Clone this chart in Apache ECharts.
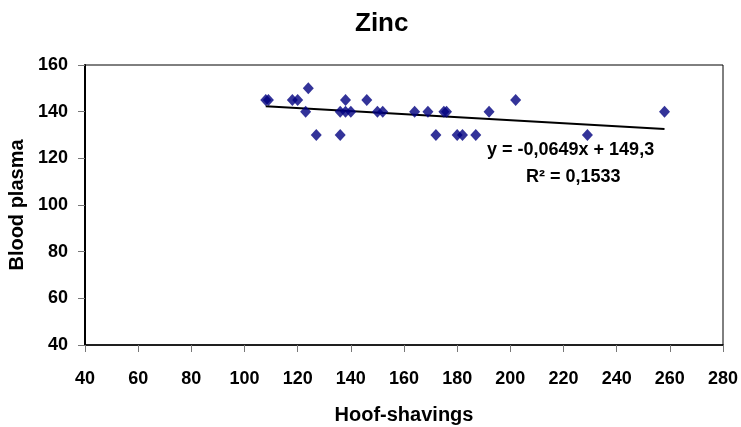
<!DOCTYPE html>
<html>
<head>
<meta charset="utf-8">
<title>Zinc</title>
<script src="https://cdn.jsdelivr.net/npm/echarts@6/dist/echarts.min.js"></script>
<style>
  html, body { margin: 0; padding: 0; background: #fff; }
  #chart { width: 741px; height: 427px; }
</style>
</head>
<body>
<div id="chart"></div>
<script>
// data
const hoofShavings = [108, 109, 118, 120, 124, 123, 127, 136, 136, 138, 140, 138, 146, 150, 152,
  164, 169, 175, 176, 172, 180, 182, 187, 192, 202, 229, 258]
const bloodPlasma = [145, 145, 145, 145, 150, 140, 130, 130, 140, 140, 140, 145, 145, 140, 140,
  140, 140, 140, 140, 130, 130, 130, 130, 140, 145, 130, 140]

// trend line as printed on the chart
const trendSlope = -0.0649
const trendIntercept = 149.3
const trendR2 = 0.1533

const xTicks = [40, 280, 20]   // min, max, step
const yTicks = [40, 160, 20]

const points = hoofShavings.map((x, i) => [x, bloodPlasma[i]])
const xMin = Math.min(...hoofShavings)
const xMax = Math.max(...hoofShavings)
const trendData = [xMin, xMax].map(x => [x, trendSlope * x + trendIntercept])

const fmt = (v, d) => v.toFixed(d).replace('.', ',')
const eqText = 'y = ' + fmt(trendSlope, 4) + 'x + ' + fmt(trendIntercept, 1)
const r2Text = 'R² = ' + fmt(trendR2, 4)

const font = 'Liberation Sans, Arial, sans-serif'
const chart = echarts.init(document.getElementById('chart'))

const option = {
  animation: false,
  title: {
    text: 'Zinc',
    left: 350,
    top: 6,
    textStyle: { fontFamily: font, fontSize: 26, fontWeight: 'bold', color: '#000' }
  },
  grid: {
    left: 85,
    right: 18,
    top: 65,
    bottom: 82,
    outerBoundsMode: 'none',
    containLabel: false,
    show: true,
    borderColor: '#000',
    borderWidth: 1
  },
  xAxis: {
    type: 'value',
    min: xTicks[0],
    max: xTicks[1],
    interval: xTicks[2],
    name: 'Hoof-shavings',
    nameLocation: 'middle',
    nameGap: 60,
    nameTextStyle: { fontFamily: font, fontSize: 20, fontWeight: 'bold', color: '#000' },
    axisLine: { lineStyle: { color: '#000', width: 1.5 } },
    axisTick: { length: 7, lineStyle: { color: '#777' } },
    axisLabel: { fontFamily: font, fontSize: 18, fontWeight: 'bold', color: '#000', margin: 25 },
    splitLine: { show: false }
  },
  yAxis: {
    type: 'value',
    min: yTicks[0],
    max: yTicks[1],
    interval: yTicks[2],
    name: 'Blood plasma',
    nameLocation: 'middle',
    nameGap: 49,
    nameTextStyle: { fontFamily: font, fontSize: 20, fontWeight: 'bold', color: '#000' },
    axisLine: { lineStyle: { color: '#000', width: 2 } },
    axisTick: { length: 7, lineStyle: { color: '#777' } },
    axisLabel: { fontFamily: font, fontSize: 18, fontWeight: 'bold', color: '#000', margin: 17 },
    splitLine: { show: false }
  },
  series: [
    {
      name: 'Zinc',
      type: 'scatter',
      symbol: 'diamond',
      symbolSize: [11, 12],
      itemStyle: { color: '#000080' },
      data: points,
      z: 3
    },
    {
      name: 'Trend',
      type: 'line',
      symbol: 'none',
      lineStyle: { color: '#000', width: 2 },
      data: trendData,
      z: 2
    }
  ],
  graphic: [
    {
      type: 'text',
      left: 487,
      top: 141,
      style: { text: eqText, font: 'bold 18px ' + font, fill: '#000' }
    },
    {
      type: 'text',
      left: 526,
      top: 168,
      style: { text: r2Text, font: 'bold 18px ' + font, fill: '#000' }
    }
  ]
}

chart.setOption(option)
</script>
</body>
</html>
